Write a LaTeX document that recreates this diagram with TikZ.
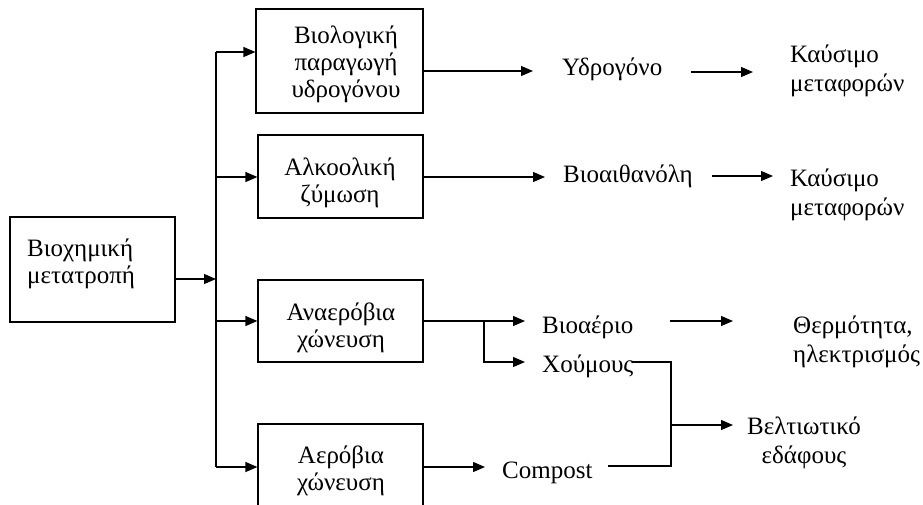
\documentclass[tikz,border=0pt]{standalone}
\usepackage{fontspec}
\setmainfont{Liberation Serif}
\usetikzlibrary{arrows.meta}
\begin{document}
\begin{tikzpicture}[x=1pt,y=-1pt,
  box/.style={draw,line width=1.2pt,inner sep=0pt},
  boxtxt/.style={inner sep=0pt,align=center,font=\fontsize{25}{27}\selectfont},
  lbl/.style={inner sep=0pt,font=\fontsize{25}{28.5}\selectfont},
  ln/.style={line width=1.2pt},
  arr/.style={line width=1.2pt,-{Triangle[length=12pt,width=10pt]}}]
\useasboundingbox (0,0) rectangle (923,504);
% boxes
\node[box,minimum width=165pt,minimum height=105pt] (bc) at (92.5,269.5) {};
\node[box,minimum width=167pt,minimum height=104pt] (b1) at (339.5,61) {};
\node[box,minimum width=165pt,minimum height=83pt] (b2) at (340.5,176.5) {};
\node[box,minimum width=165pt,minimum height=82pt] (b3) at (340.5,321) {};
\node[box,minimum width=165pt,minimum height=100pt] (b4) at (340.5,474) {};
% box texts (anchor = baseline of last line)
\node[boxtxt,align=left,anchor=base west] (bct) at (27,283) {Βιοχημική\\μετατροπή};
\node[boxtxt,anchor=base] (b1t) at (346,97) {Βιολογική\\παραγωγή\\υδρογόνου};
\node[boxtxt,anchor=base] (b2t) at (340,202) {Αλκοολική\\ζύμωση};
\node[boxtxt,anchor=base] (b3t) at (341,347) {Αναερόβια\\χώνευση};
\node[boxtxt,anchor=base] (b4t) at (341,490) {Αερόβια\\χώνευση};
% labels
\node[lbl,anchor=base west] (hyd) at (562,75) {Υδρογόνο};
\node[lbl,anchor=base west,align=left] (fuel1) at (790,91) {Καύσιμο\\μεταφορών};
\node[lbl,anchor=base west] (eth) at (563,182) {Βιοαιθανόλη};
\node[lbl,anchor=base west,align=left] (fuel2) at (790,215) {Καύσιμο\\μεταφορών};
\node[lbl,anchor=base west] (gas) at (542,333) {Βιοαέριο};
\node[lbl,anchor=base west] (hum) at (542,372) {Χούμους};
\node[lbl,anchor=base west,align=left] (heat) at (793,362) {Θερμότητα,\\ηλεκτρισμός};
\node[lbl,anchor=base,align=center] (soil) at (804,463) {Βελτιωτικό\\εδάφους};
\node[lbl,anchor=base west] (comp) at (502,478) {Compost};
% coordinates
\coordinate (bustop) at (216,52);
\coordinate (busbot) at (216,467);
\coordinate (busin) at (216,279);
\coordinate (hydin) at (533,71);
\coordinate (hydout) at (691,72);
\coordinate (fuel1in) at (753,72);
\coordinate (ethin) at (545,177);
\coordinate (ethout) at (712,176);
\coordinate (fuel2in) at (773,176);
\coordinate (gasin) at (525,321);
\coordinate (split) at (484,321);
\coordinate (humin) at (525,362);
\coordinate (gasout) at (670,321);
\coordinate (heatin) at (733,321);
\coordinate (humout) at (632,362);
\coordinate (jtop) at (671,362);
\coordinate (jmid) at (671,425);
\coordinate (jbot) at (671,466);
\coordinate (compout) at (608,466);
\coordinate (soilin) at (733,425);
\coordinate (compin) at (485,467);
% connectors
\draw[arr] (bc.east |- busin) -- (busin);
\draw[ln] (bustop) -- (busbot);
\draw[arr] (bustop) -- (b1.west |- bustop);
\draw[arr] (216,177) -- (b2.west |- 0,177);
\draw[arr] (216,321) -- (b3.west |- 0,321);
\draw[arr] (busbot) -- (b4.west |- busbot);
\draw[arr] (b1.east |- hydin) -- (hydin);
\draw[arr] (hydout) -- (fuel1in);
\draw[arr] (b2.east |- ethin) -- (ethin);
\draw[arr] (ethout) -- (fuel2in);
\draw[arr] (b3.east |- gasin) -- (gasin);
\draw[arr] (split) |- (humin);
\draw[arr] (gasout) -- (heatin);
\draw[ln] (humout) -- (jtop) -- (jbot) -- (compout);
\draw[arr] (jmid) -- (soilin);
\draw[arr] (b4.east |- compin) -- (compin);
\end{tikzpicture}
\end{document}
